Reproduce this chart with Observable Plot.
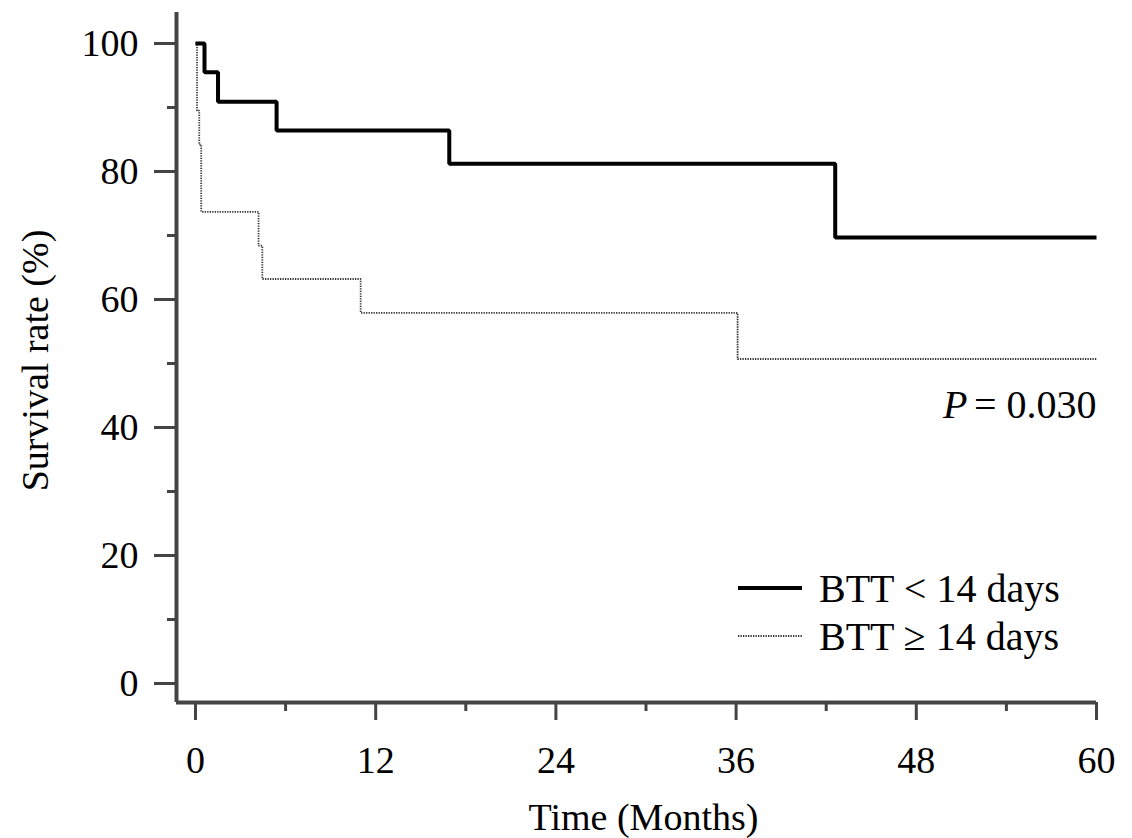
<!DOCTYPE html>
<html>
<head>
<meta charset="utf-8">
<script src="https://cdn.jsdelivr.net/npm/d3@7"></script>
<script src="https://cdn.jsdelivr.net/npm/@observablehq/plot@0.6"></script>
<style>
  html, body { margin: 0; padding: 0; background: #fff; }
  #wrap { position: relative; width: 1132px; height: 838px; }
  #legend { position: absolute; left: 0; top: 0; pointer-events: none; }
</style>
</head>
<body>
<div id="wrap"></div>
<script>
// ---- Data ----
const groupNames = ["BTT < 14 days", "BTT \u2265 14 days"];
const timesA = [0, 0.6, 1.5, 5.4, 16.9, 42.6, 60];
const survA  = [100, 95.5, 90.9, 86.4, 81.2, 69.7, 69.7];
const timesB = [0, 0.1, 0.25, 0.38, 4.2, 4.45, 11.0, 36.1, 60];
const survB  = [100, 89.5, 84.2, 73.7, 68.4, 63.2, 57.9, 50.7, 50.7];
const xMajorTicks = [0, 12, 24, 36, 48, 60];
const xMinorTicks = [6, 18, 30, 42, 54];
const yMajorTicks = [0, 20, 40, 60, 80, 100];
const yMinorTicks = [10, 30, 50, 70, 90];
const pValueText = "= 0.030";
const xTitle = "Time (Months)";
const yTitle = "Survival rate (%)";

// ---- Layout ----
const W = 1132, H = 838;
const mL = 176, mR = 36, mT = 12, mB = 136;
const xMin = -1.265, xMax = 60;
const yMin = -2.97, yMax = 104.84;
const font = "'Liberation Serif', 'Times New Roman', serif";
const axisColor = "#444";

const rowsA = timesA.map((t, i) => ({t, s: survA[i]}));
const rowsB = timesB.map((t, i) => ({t, s: survB[i]}));

const chart = Plot.plot({
  width: W, height: H,
  marginLeft: mL, marginRight: mR, marginTop: mT, marginBottom: mB,
  style: {fontFamily: font, fontSize: "38px", background: "#fff", color: "#000", overflow: "visible"},
  x: {domain: [xMin, xMax]},
  y: {domain: [yMin, yMax]},
  marks: [
    // axis lines
    Plot.ruleX([xMin], {stroke: axisColor, strokeWidth: 4}),
    Plot.ruleY([yMin], {stroke: axisColor, strokeWidth: 4}),
    // x axis
    Plot.axisX({ticks: xMajorTicks, tickSize: 18, tickPadding: 26, tickFormat: d => String(d),
      stroke: axisColor, strokeWidth: 3, fill: "#000", fontSize: 38, label: null}),
    Plot.axisX({ticks: xMinorTicks, tickSize: 9, text: null,
      stroke: axisColor, strokeWidth: 3, label: null}),
    // y axis
    Plot.axisY({ticks: yMajorTicks, tickSize: 22, tickPadding: 16, tickFormat: d => String(d),
      stroke: axisColor, strokeWidth: 3, fill: "#000", fontSize: 38, label: null}),
    Plot.axisY({ticks: yMinorTicks, tickSize: 9, text: null,
      stroke: axisColor, strokeWidth: 3, label: null}),
    // survival curves
    Plot.line(rowsB, {x: "t", y: "s", curve: "step-after", stroke: "#333",
      strokeWidth: 1.8, strokeDasharray: "1.3,1.2", strokeLinejoin: "miter", strokeLinecap: "butt"}),
    Plot.line(rowsA, {x: "t", y: "s", curve: "step-after", stroke: "#000",
      strokeWidth: 4, strokeLinejoin: "miter", strokeLinecap: "butt"}),
    // axis titles
    Plot.text([xTitle], {frameAnchor: "bottom", textAnchor: "middle", dx: 7, dy: 115, lineAnchor: "middle",
      fontSize: 38, fill: "#000"}),
    Plot.text([yTitle], {frameAnchor: "left", textAnchor: "middle", dx: -141, dy: 3, rotate: -90, lineAnchor: "middle",
      fontSize: 38, fill: "#000"}),
    // P value annotation
    Plot.text([pValueText], {frameAnchor: "top-right", textAnchor: "end", lineAnchor: "bottom",
      dy: 405, dx: 0, fontSize: 40, fill: "#000"}),
    Plot.text(["P"], {frameAnchor: "top-right", textAnchor: "end", lineAnchor: "bottom",
      dy: 405, dx: -129, fontSize: 40, fontStyle: "italic", fill: "#000"})
  ]
});
document.getElementById("wrap").appendChild(chart);

// ---- Legend overlay ----
const lg = d3.select("#wrap").append("svg").attr("id", "legend")
  .attr("width", W).attr("height", H);
const legendItems = [
  {name: groupNames[0], y: 588, stroke: "#000", width: 4, dash: null},
  {name: groupNames[1], y: 636, stroke: "#333", width: 1.8, dash: "1.3,1.2"}
];
legendItems.forEach(d => {
  lg.append("line").attr("x1", 738).attr("x2", 802).attr("y1", d.y).attr("y2", d.y)
    .attr("stroke", d.stroke).attr("stroke-width", d.width)
    .attr("stroke-dasharray", d.dash);
  lg.append("text").attr("x", 819).attr("y", d.y + 14)
    .attr("font-family", font).attr("font-size", 40).attr("fill", "#000")
    .text(d.name);
});
</script>
</body>
</html>
